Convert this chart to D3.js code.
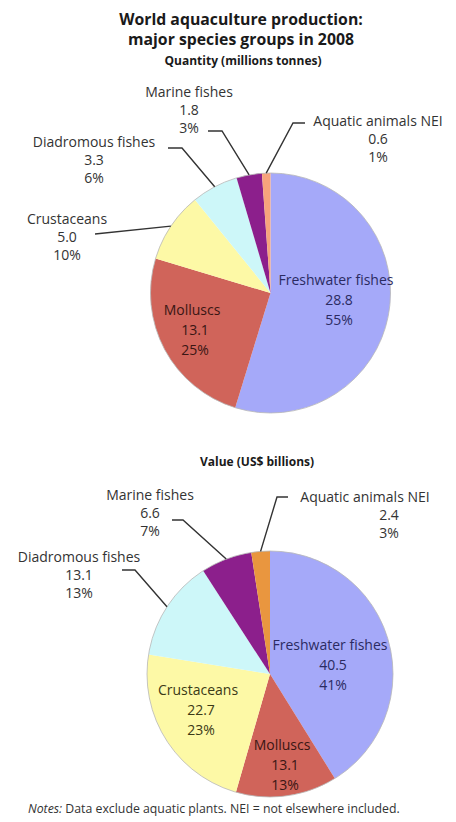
<!DOCTYPE html>
<html><head><meta charset="utf-8">
<script src="https://cdn.jsdelivr.net/npm/d3@7"></script>
<style>
html,body{margin:0;padding:0;background:#fff;}
svg{display:block;font-family:"Open Sans",sans-serif;}
</style></head>
<body>
<svg id="chart" width="456" height="822"></svg>
<script>
// ---- data ----
const categories = ["Freshwater fishes","Molluscs","Crustaceans","Diadromous fishes","Marine fishes","Aquatic animals NEI"];
const quantityValues = [28.8, 13.1, 5.0, 3.3, 1.8, 0.6];
const quantityShares = ["55%","25%","10%","6%","3%","1%"];
const valueValues = [40.5, 13.1, 22.7, 13.1, 6.6, 2.4];
const valueShares = ["41%","13%","23%","13%","7%","3%"];
const titleLines = ["World aquaculture production:", "major species groups in 2008"];
const subtitles = ["Quantity (millions tonnes)", "Value (US$ billions)"];
const footnote = ["Notes:", " Data exclude aquatic plants. NEI = not elsewhere included."];

// ---- styles ----
const colorsTop = ["#a5a9f9","#d0645a","#fdf9a6","#cdf7f9","#8c1f8c","#f7a37c"];
const colorsBottom = ["#a5a9f9","#d0645a","#fdf9a6","#cdf7f9","#8c1f8c","#e9963f"];
const textColors = {inside:["#2b2b62","#3a1614","#3b3a16"], outside:"#333"};

const svg = d3.select("#chart");

// titles
svg.append("text").attr("x",241).attr("y",25).attr("text-anchor","middle")
  .attr("font-weight","bold").attr("font-size",15.8).attr("fill","#1a1a1a").text(titleLines[0]);
svg.append("text").attr("x",241).attr("y",45).attr("text-anchor","middle")
  .attr("font-weight","bold").attr("font-size",15.8).attr("fill","#1a1a1a").text(titleLines[1]);

// layout per chart
const layouts = [
 { cx:270.5, cy:293, r:120, values:quantityValues, shares:quantityShares, colors:colorsTop,
   sub:{x:243,y:65,text:subtitles[0]},
   inside:{0:{x:336,y:285}, 1:{x:192,y:315}},
   outside:{
     2:{x:67,y:224, lead:[[95,234]]},
     3:{x:94,y:147, lead:[[168,148],[182,148]]},
     4:{x:189,y:97, lead:[[208,131],[222,131]]},
     5:{x:378,y:126, lead:[[305,123],[293,123]]}
   }},
 { cx:270, cy:674, r:123, values:valueValues, shares:valueShares, colors:colorsBottom,
   sub:{x:257,y:466,text:subtitles[1]},
   inside:{0:{x:330,y:650}, 1:{x:282,y:750}, 2:{x:198,y:695}},
   outside:{
     3:{x:79,y:562, lead:[[122,570],[135,570]]},
     4:{x:150,y:500, lead:[[172,520],[183,520]]},
     5:{x:365,y:502, sub:389, lead:[[288,497],[277,497]]}
   }}
];

const lh = 18;
layouts.forEach(L => {
  svg.append("text").attr("x",L.sub.x).attr("y",L.sub.y).attr("text-anchor","middle")
    .attr("font-weight","bold").attr("font-size",12).attr("fill","#1a1a1a").text(L.sub.text);

  const pie = d3.pie().sort(null).value(d=>d)(L.values);
  const arc = d3.arc().innerRadius(0).outerRadius(L.r);
  const g = svg.append("g").attr("transform",`translate(${L.cx},${L.cy})`);
  g.selectAll("path.slice").data(pie).join("path").attr("class","slice")
    .attr("d",arc).attr("fill",(d,i)=>L.colors[i]);
  g.append("circle").attr("r",L.r).attr("fill","none").attr("stroke","#b8b8b8").attr("stroke-width",0.8);

  // inside labels
  Object.entries(L.inside).forEach(([k,p])=>{
    const i=+k;
    const t = svg.append("text").attr("text-anchor","middle").attr("font-size",14)
      .attr("fill",textColors.inside[i]);
    [categories[i], L.values[i].toFixed(1), L.shares[i]].forEach((s,j)=>{
      t.append("tspan").attr("x",p.x + (j>0?3:0)).attr("y",p.y + j*(lh+2)).text(s);
    });
  });

  // outside labels with leaders
  Object.entries(L.outside).forEach(([k,p])=>{
    const i=+k;
    const d = pie[i];
    const mid = (d.startAngle+d.endAngle)/2;
    const ex = L.cx + L.r*Math.sin(mid), ey = L.cy - L.r*Math.cos(mid);
    const pts = p.lead.concat([[ex,ey]]);
    svg.append("path").attr("d",d3.line()(pts)).attr("fill","none")
      .attr("stroke","#333").attr("stroke-width",1.4);
    const t = svg.append("text").attr("text-anchor","middle").attr("font-size",14)
      .attr("fill",textColors.outside);
    [categories[i], L.values[i].toFixed(1), L.shares[i]].forEach((s,j)=>{
      t.append("tspan").attr("x", j>0 && p.sub ? p.sub : p.x).attr("y",p.y + j*lh).text(s);
    });
  });
});

// footnote
const fn = svg.append("text").attr("x",28).attr("y",813).attr("font-size",12.3).attr("fill","#333");
fn.append("tspan").attr("font-style","italic").text(footnote[0]);
fn.append("tspan").text(footnote[1]);
</script>
</body></html>
